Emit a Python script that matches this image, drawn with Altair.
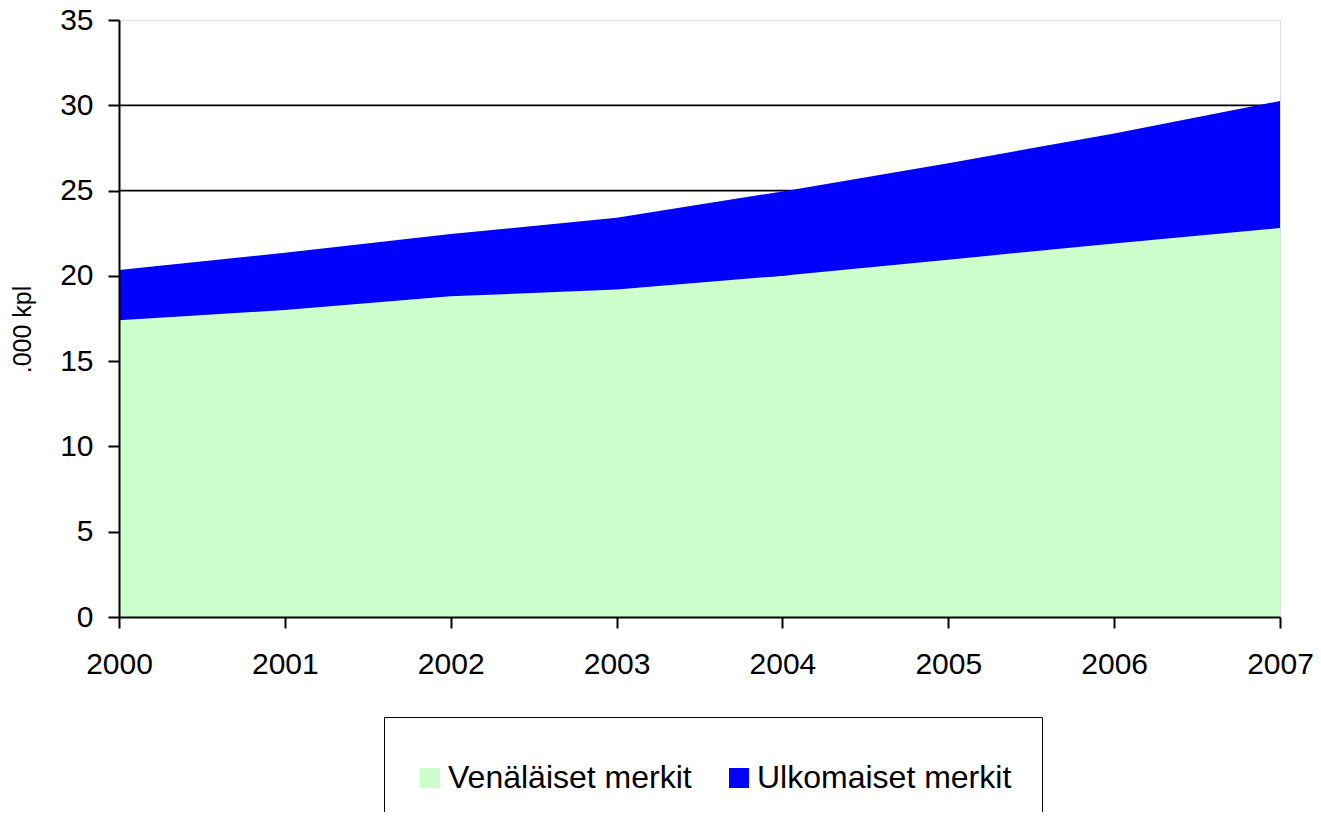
import altair as alt
import pandas as pd

years = [2000, 2001, 2002, 2003, 2004, 2005, 2006, 2007]
venalaiset = [17.4, 18.0, 18.8, 19.2, 20.0, 20.95, 21.9, 22.8]
ulkomaiset = [2.95, 3.35, 3.65, 4.2, 4.95, 5.65, 6.45, 7.45]
series_names = ["Venäläiset merkit", "Ulkomaiset merkit"]
series_colors = ["#CCFFCC", "#0000FF"]
y_ticks = [0, 5, 10, 15, 20, 25, 30, 35]
grid_values = [5, 10, 15, 20, 25, 30]

rows = []
for i, y in enumerate(years):
    rows.append({"year": y, "value": venalaiset[i], "series": series_names[0], "ord": 0})
    rows.append({"year": y, "value": ulkomaiset[i], "series": series_names[1], "ord": 1})
df = pd.DataFrame(rows)
grid_df = pd.DataFrame({"value": grid_values})

FONT = "Liberation Sans"

yscale = alt.Scale(domain=[0, 35], nice=False)
xscale = alt.Scale(domain=[2000, 2007], nice=False)

y_axis = alt.Axis(values=y_ticks, title=".000 kpl", labelFontSize=30,
                  labelFont=FONT, labelColor="black", labelPadding=15,
                  tickSize=11, tickColor="black", tickWidth=2,
                  domainColor="black", domainWidth=2, grid=False,
                  zindex=1, titleFont=FONT, titleFontSize=25,
                  titleFontWeight="normal", titleColor="black",
                  titleX=-97, titleY=309, titleAlign="center",
                  titleBaseline="middle", titleAngle=270)

grid = alt.Chart(grid_df).mark_rule(color="black", strokeWidth=1.8).encode(
    y=alt.Y("value:Q", scale=yscale, axis=y_axis)
)

area = alt.Chart(df).mark_area(interpolate="linear").encode(
    x=alt.X("year:Q", scale=xscale,
            axis=alt.Axis(values=years, format="d", title=None, labelFontSize=30,
                          labelFont=FONT, labelColor="black", labelPadding=21,
                          tickSize=11, tickColor="black", tickWidth=2,
                          domainColor="black", domainWidth=2, grid=False,
                          zindex=1, labelFlush=False)),
    y=alt.Y("value:Q", stack="zero", scale=yscale, axis=y_axis),
    color=alt.Color("series:N",
                    scale=alt.Scale(domain=series_names, range=series_colors),
                    legend=alt.Legend(orient="none", legendX=265, legendY=697,
                                      direction="horizontal", title=" ",
                                      titleFontSize=1, titlePadding=14,
                                      strokeColor="black", fillColor="white",
                                      padding=30, symbolType="square",
                                      symbolSize=400, symbolStrokeWidth=0,
                                      symbolOpacity=1, labelFontSize=32,
                                      labelFont=FONT, labelColor="black",
                                      labelOffset=2, columnPadding=31,
                                      labelLimit=500)),
    order=alt.Order("ord:Q"),
)

chart = alt.layer(grid, area).properties(
    width=1161, height=597,
    autosize=alt.AutoSizeParams(type="none"),
    padding={"left": 111, "top": 12, "right": 33, "bottom": 195},
).configure_view(stroke="#808080", strokeWidth=2).configure(background="white", font=FONT)

chart.save("out.html", embed_options={"renderer": "svg", "actions": False})
